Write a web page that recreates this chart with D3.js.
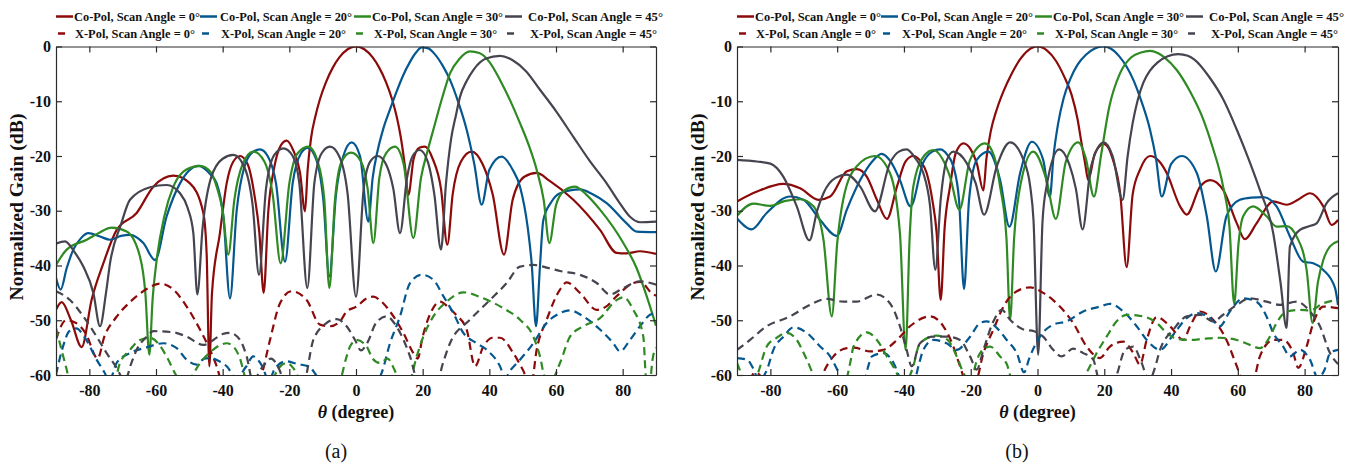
<!DOCTYPE html>
<html>
<head>
<meta charset="utf-8">
<script src="https://cdn.jsdelivr.net/npm/d3@7"></script>
<style>
  body { margin: 0; background: #fff; }
</style>
</head>
<body>
<div id="chart"></div>
<script>
// axis ticks
const thetaTicks = [-80, -60, -40, -20, 0, 20, 40, 60, 80];
const gainTicks = [0, -10, -20, -30, -40, -50, -60];

// legend text
const scanAngles = [0, 20, 30, 45];
const coLabels = scanAngles.map(a => `Co-Pol, Scan Angle = ${a}°`);
const xLabels = scanAngles.map(a => `X-Pol, Scan Angle = ${a}°`);
const panelTags = ["(a)", "(b)"];

// ---- panel (a): [theta in degree, gain in dB] ----
const coA0 = [[-90,-48.1],[-88.3,-46.7],[-85.5,-50],[-82.3,-54.9],[-79.3,-46.2],[-75.8,-39.6],[-71.8,-33.5],[-65.8,-30.4],[-60.8,-25.6],[-54.8,-23.6],[-49.8,-25],[-45.8,-30.4],[-44.8,-38],[-44,-58.4],[-43.2,-45],[-40.8,-34],[-38.8,-25],[-36.8,-21],[-34.8,-20],[-32.5,-21.5],[-30.5,-27],[-29,-34],[-27.7,-45],[-26.3,-30],[-24.5,-22],[-22.5,-18],[-20.8,-17.2],[-18.8,-19],[-16.8,-23],[-15.3,-30.1],[-14.5,-22.5],[-13.5,-16.8],[-12.2,-12.8],[-10.8,-9.6],[-9,-6.5],[-7,-3.9],[-5,-2],[-2.5,-0.5],[0,0],[2.5,-0.5],[5,-2],[7,-3.9],[9,-6.5],[10.8,-9.6],[12.2,-12.8],[13.5,-16.8],[14.7,-22],[15.7,-27.1],[17.3,-20.5],[19,-18.5],[20.7,-18.3],[23,-20.5],[25.5,-26],[27.4,-36.2],[29,-27],[31.5,-21],[34.7,-19.2],[38,-21.5],[41,-27],[44.4,-38],[47,-28],[50.5,-23.8],[54.2,-23.1],[58,-24.5],[65.2,-28],[73.2,-33.5],[78.2,-37.7],[81,-37.8],[85.2,-37.4],[90,-37.9]];
const coA20 = [[-90,-42.3],[-88.6,-44.4],[-86.8,-40.5],[-84.8,-37.1],[-82.5,-35],[-80.3,-34.1],[-76.8,-34.7],[-73.8,-35.3],[-70.5,-34.6],[-67.8,-34.4],[-63.8,-35.9],[-60.3,-39],[-56.8,-31],[-52.8,-25],[-47.3,-21.8],[-43.5,-23.5],[-41.8,-25],[-39.8,-31],[-37.8,-46],[-35.8,-30],[-33.5,-22],[-31,-19.3],[-28.8,-18.8],[-26.5,-20],[-24,-25],[-21.3,-39.3],[-19,-25],[-16.5,-19.5],[-14.5,-18.5],[-12,-20.5],[-9.8,-28],[-8,-42],[-6,-27],[-3.8,-20],[-1.3,-17.5],[1.2,-20],[3.7,-32],[5,-24],[6.5,-19],[8.2,-15],[10.2,-11.5],[12.2,-8.2],[14.2,-5.2],[16.2,-2.8],[18,-1.1],[19.7,-0.15],[21.5,-0.3],[23.5,-1.3],[26,-3.5],[28.2,-6.1],[30.7,-10.2],[33.2,-15.2],[35.5,-21.5],[37.7,-28.9],[40,-22.5],[43.7,-20.1],[47,-22.5],[49.2,-25.6],[51.5,-33],[52.7,-39.6],[54,-51.1],[55.2,-40],[56.2,-31.7],[58.5,-28.5],[61.2,-26.8],[67.2,-26.1],[71,-27],[75.2,-28.6],[81.2,-32.3],[84.2,-33.8],[90,-33.9]];
const coA30 = [[-90,-39.9],[-86.8,-37.1],[-80.8,-35.3],[-77,-34],[-73.3,-33.1],[-68.8,-33.8],[-64.8,-38.4],[-63.2,-45],[-62,-56.3],[-61,-46],[-59.8,-39],[-57.5,-31],[-54.8,-25.6],[-51,-22.5],[-46.8,-21.8],[-43.5,-23],[-41.8,-25.6],[-40,-30],[-38.3,-38],[-36.5,-28],[-34,-21.5],[-30.8,-19.2],[-27.5,-21],[-25,-27],[-22.6,-39.6],[-20,-25],[-17.5,-19.5],[-14.3,-18.3],[-11.5,-21],[-9.5,-28],[-8,-44.1],[-6.3,-28],[-4.3,-21],[-1.5,-19.4],[1.5,-21],[3.5,-26],[5.2,-35.9],[7,-24],[9,-19.5],[11.7,-18.3],[14.3,-21.5],[17.2,-35],[19.5,-24],[21.5,-19],[23.2,-15.2],[25.8,-9.5],[28.2,-4.9],[31,-2.3],[34.2,-0.9],[37,-1.2],[40,-2.8],[43.2,-6.1],[46.2,-9.8],[49.2,-14],[52,-18.3],[54.2,-22.5],[56.3,-28],[58,-35.9],[60,-29],[62.5,-26.3],[65.7,-25.6],[69,-27],[73.2,-29.8],[80.2,-35.9],[84.2,-40.5],[87.2,-45.6],[90,-51]];
const coA45 = [[-90,-36],[-87.3,-35.6],[-84.5,-37.5],[-81.8,-40.2],[-78.8,-45],[-76.8,-51.1],[-75,-45],[-73.8,-39.6],[-70.5,-32.5],[-67.8,-28],[-61.8,-25.7],[-56.8,-25.3],[-52.8,-26.8],[-50.5,-29.5],[-48.8,-34.1],[-47.6,-45.3],[-46,-33],[-43.5,-24],[-40,-20.5],[-36.8,-19.8],[-33.5,-22],[-31,-29],[-29.1,-41.7],[-27,-26],[-24.5,-19.8],[-21.8,-18.6],[-19,-20],[-17,-25],[-14.6,-44.1],[-12.5,-25],[-10.3,-19.5],[-7.8,-18.3],[-5,-20.1],[-2.5,-27],[0,-45.7],[2.3,-26],[4.3,-21],[6.5,-20],[9,-21.5],[11.2,-26],[13.2,-34.1],[15.3,-24],[17,-20],[19.1,-18.9],[21.5,-21],[23.5,-27],[25.5,-37.1],[27,-25],[28.5,-17],[30,-12.5],[31.2,-9.2],[33.2,-6.3],[35.2,-4.3],[39,-2.2],[43.2,-1.7],[47,-2.5],[51,-4.5],[55.2,-7.9],[60,-11.8],[65.2,-16.5],[70,-20.8],[75.2,-25],[79,-28.5],[82.2,-31.1],[85.2,-32.1],[90,-32]];
const xA0 = [[-90,-53.5],[-87,-50],[-84,-50.5],[-81,-52.5],[-77.5,-57],[-75.5,-53],[-72,-49.5],[-68,-46.8],[-62.8,-44.3],[-58.8,-43.3],[-54.8,-44.4],[-50.8,-47.5],[-46.8,-51.7],[-43.8,-55.4],[-41.8,-58.4],[-40,-62],[-34,-66],[-28.3,-60],[-25.8,-53.6],[-22.8,-46.9],[-19.3,-44.7],[-14.8,-46.3],[-10.8,-50.8],[-7.8,-51.1],[-4.8,-50.2],[-2.8,-48.4],[0.2,-47.5],[3.2,-46],[5.2,-45.7],[7.5,-46.5],[10.2,-48.4],[14.2,-52.3],[17.2,-56],[18.5,-57],[20,-53],[22.5,-48.5],[25.2,-46.6],[27.5,-47.5],[30,-49],[33.2,-51.7],[35.7,-58.4],[38.2,-54.8],[41,-53.2],[43.2,-53.2],[47.2,-56],[50,-59],[52.5,-62],[54.2,-55.4],[57.2,-49.9],[61.2,-44.4],[63.2,-43.1],[67.2,-45],[72.2,-48.1],[75,-47.5],[78.2,-45.6],[83.2,-43.2],[85.2,-43],[89.2,-45.3],[90,-45.5]];
const xA20 = [[-90,-60],[-88,-55],[-86,-52],[-84,-51.5],[-81,-53.5],[-78,-57],[-75.5,-59.5],[-74,-61],[-71.8,-57.8],[-67.8,-56],[-63,-55],[-57.8,-54.2],[-53.8,-55.1],[-50.8,-57.2],[-47.8,-58.1],[-45.5,-57],[-43.8,-56.9],[-41,-57.5],[-38.8,-58.4],[-36,-60.5],[-33,-58.5],[-30.8,-56.6],[-28.5,-58],[-26,-61],[-24.5,-59],[-21,-57.5],[-17.5,-58],[-14,-58.5],[-11,-60.5],[-4,-61],[0,-62],[5,-62],[7.7,-59.6],[10.2,-54.2],[13.2,-49.3],[16.2,-43.2],[19.7,-41.7],[23.2,-42.6],[26.2,-45.6],[29.2,-48.7],[32.2,-52.3],[36.2,-54.2],[39.2,-55.4],[43.2,-58.4],[44.7,-60.5],[46.5,-59],[49.2,-57.2],[53.2,-54.2],[57.2,-50.5],[61.2,-48.7],[64.2,-48.2],[68.2,-49.3],[73.2,-51.7],[77.2,-54.2],[79.2,-55.7],[82.2,-53.6],[85.2,-51.1],[88.2,-49],[90,-48.7]];
const xA30 = [[-90,-51.4],[-88.5,-55],[-86.8,-59],[-85.5,-62],[-73,-62],[-70.8,-57.8],[-67.8,-55.4],[-64.8,-53.6],[-61.8,-53.2],[-59,-54.5],[-56.5,-57],[-54,-60],[-51,-62],[-49,-60],[-47,-58],[-44,-56],[-41,-54.6],[-38.8,-54.2],[-36.5,-55],[-34.8,-57],[-33,-60.5],[-26,-62],[-23.5,-59],[-20.8,-57.8],[-18.5,-59],[-16.5,-61],[-5,-61],[-3,-57],[-1.8,-54.8],[0.2,-53.6],[3.2,-54.8],[5,-57],[7.2,-57.8],[9.5,-57],[11.5,-59],[13,-61],[16,-61],[18.2,-56.6],[20.2,-53],[23.2,-49.3],[27.2,-46.6],[32.2,-44.9],[38.2,-46],[44.2,-47.8],[49.2,-49.9],[53.2,-53],[55.2,-56.6],[56.7,-60.5],[58.5,-61],[61.2,-57.8],[64.2,-53],[68.2,-51.1],[73.2,-49.6],[78.2,-46.3],[80.2,-45.8],[83.2,-48.1],[86.2,-53],[87,-60.5],[88,-62],[89,-57],[90,-55]];
const xA45 = [[-90,-44.7],[-85.8,-46.3],[-81.8,-49.3],[-77.8,-53],[-74.8,-56],[-72,-58.5],[-69.3,-61],[-67.5,-58],[-65.8,-55.4],[-62.8,-53],[-60.8,-52],[-54.8,-52.2],[-50.8,-53],[-45.8,-54.5],[-42.8,-53.6],[-40,-52.5],[-37.8,-52.3],[-34.8,-53.6],[-32.8,-56.6],[-31,-61],[-28,-58.5],[-25.5,-57],[-23,-59],[-21,-62],[-16,-62],[-12.8,-53.6],[-8.8,-50.5],[-5.8,-49.8],[-2.8,-51.1],[-0.3,-53.6],[1.5,-55.5],[3.5,-54],[6,-50.5],[9.2,-49.3],[12,-51],[16.2,-56.6],[18.5,-61],[24,-62],[26,-58],[28.2,-54.2],[34.2,-49.9],[40.2,-46.3],[45.2,-43.2],[49.2,-40.2],[53.2,-39.9],[58,-40.5],[61.2,-41],[67.2,-41.7],[72.2,-43.2],[76.2,-45.3],[80.2,-44.1],[85.2,-42.9],[90,-43.5]];

// ---- panel (b) ----
const coB0 = [[-90,-28.3],[-84,-26.5],[-76.1,-25.1],[-71.1,-25.9],[-65.6,-28],[-62.1,-27.4],[-57.1,-22.8],[-54.1,-22.4],[-51.1,-23.8],[-48.1,-28],[-45.1,-31.5],[-42.1,-25.6],[-39.5,-21],[-37.2,-20],[-35,-21],[-33.2,-23.1],[-31.5,-28],[-30.2,-34.1],[-29,-46.3],[-27.8,-33],[-26.2,-25.6],[-24.5,-19.5],[-22.2,-17.7],[-20,-18.8],[-18.2,-21.3],[-16.2,-26.3],[-15.3,-20.5],[-14,-15.5],[-12.2,-11.5],[-10.2,-8.2],[-8,-5.3],[-5.5,-2.6],[-2.8,-0.7],[0,0],[2.8,-0.7],[5.5,-2.6],[8,-5.5],[10.2,-8.8],[12,-13.3],[13.2,-17.7],[14.3,-21.5],[15.2,-24.4],[17.2,-19.5],[19.9,-17.8],[22.5,-20.5],[24.8,-27],[26.7,-40.3],[28.5,-27],[30.7,-22.5],[33.7,-20],[36.5,-21],[38.7,-23.1],[42.7,-29.2],[44.7,-30.7],[48.7,-25.6],[51.7,-24.4],[55.6,-26.2],[59.7,-32.3],[62.1,-35.2],[65.6,-32.3],[70.6,-28.3],[74.6,-28.9],[78,-28],[81.6,-26.8],[85.6,-29.2],[88.1,-32.6],[90,-31.7]];
const coB20 = [[-90,-31.4],[-85.6,-33.4],[-81.1,-30.4],[-74.1,-27.4],[-70.1,-28],[-65.1,-31.7],[-60.1,-34.6],[-57.1,-29.8],[-53.1,-24.4],[-49.5,-21],[-46.7,-19.6],[-44,-21],[-41.2,-24.4],[-38,-29.2],[-34.3,-21.3],[-31.5,-19.2],[-29.2,-18.8],[-27,-19.8],[-25.2,-21.9],[-23.5,-28],[-22,-44.3],[-20.5,-28],[-18.2,-20.7],[-14.7,-19.2],[-11.2,-24.4],[-8.4,-32.9],[-5.2,-23.1],[-1.7,-17.4],[1.7,-20.7],[3.7,-27.5],[4.8,-20],[6.2,-14],[7.8,-9.5],[9.7,-6.1],[12,-3.3],[14.5,-1.5],[17,-0.4],[19.7,0],[22,-0.4],[24.5,-1.8],[26.7,-3.7],[28.7,-6.1],[31,-9.8],[33.7,-15.2],[35.5,-20.5],[37.2,-27.4],[40,-21.5],[43.2,-20],[47.7,-23.1],[50.7,-31],[53.4,-41.1],[56.6,-31],[60.6,-28],[64,-27.6],[67.6,-27.5],[71.6,-29.2],[75.6,-34.7],[79.6,-39.3],[82.6,-39.6],[85.6,-40.8],[89.1,-44.1],[90,-47.2]];
const coB30 = [[-90,-30.9],[-85.1,-28.7],[-80.1,-29.1],[-75.5,-28.2],[-71.1,-27.9],[-67.1,-29.2],[-64.1,-35.3],[-61.6,-49.3],[-60,-36],[-58.2,-28],[-54.2,-21.9],[-48.7,-20],[-44.2,-23.1],[-41.2,-34.1],[-39.5,-55.4],[-38.3,-35],[-37.2,-25.6],[-34,-20],[-31.2,-18.9],[-28.5,-20.5],[-26.2,-23.8],[-23.4,-29.8],[-20.2,-20.7],[-15.7,-17.7],[-13,-20],[-11.2,-25.6],[-9.3,-35],[-8.2,-49.9],[-7,-35],[-5.2,-25.6],[-1.3,-19.2],[2.7,-24.4],[5.5,-31.5],[8.5,-21],[12.2,-17.5],[14.5,-20.5],[16.9,-27.4],[19,-20],[21.5,-11],[24.7,-4.9],[28,-2],[31,-1.1],[33.7,-0.8],[36,-1.2],[38,-2],[41.7,-4.3],[45.5,-8],[49.7,-13.4],[52.5,-18.5],[55.6,-25.6],[57.5,-33],[58.9,-47],[60.2,-36],[61.6,-31],[64.6,-29.2],[68.6,-31],[71.6,-32.9],[74.6,-32.8],[77.6,-34.7],[80.6,-40.8],[82.4,-50.5],[84,-43],[85.6,-39],[87.6,-36.5],[90,-35.6]];
const coB45 = [[-90,-20.7],[-84,-21],[-80,-21.4],[-76.1,-23.8],[-72.1,-29.2],[-68.3,-35.4],[-66,-30],[-64.1,-26.8],[-60.5,-24],[-57.1,-23.4],[-53.1,-25.6],[-48.7,-30.1],[-44.2,-21.3],[-41.5,-19.2],[-39.2,-18.8],[-36.5,-20.5],[-34.2,-23.1],[-32.2,-29],[-30.6,-40.8],[-29,-28],[-27.3,-21],[-25.2,-19.2],[-21.2,-21.3],[-18.5,-25],[-16,-30.7],[-12.2,-21.9],[-8.2,-17.5],[-4.2,-20.7],[-2.2,-25.5],[-1.2,-31.7],[0.2,-56.3],[1.5,-32],[2.7,-25.6],[6.5,-18.8],[9.5,-21.5],[11.5,-26],[13.5,-33.4],[16,-22],[19.9,-17.5],[22.5,-20],[25.5,-28],[27,-20],[28.5,-14],[30,-9.8],[31.7,-6.6],[33.7,-4.4],[36,-2.9],[39,-1.8],[42.2,-1.4],[45,-1.7],[47,-2.4],[51.7,-5.8],[55.5,-9.5],[59.7,-15.2],[63,-20.2],[66.6,-26.2],[70.6,-34.1],[72.8,-43.2],[74.6,-51.4],[75.6,-36.5],[78.6,-33.5],[81.5,-32.8],[83.6,-32.3],[86.6,-28.6],[90,-26.8]];
const xB0 = [[-90,-62],[-86,-60.5],[-84.5,-59.5],[-82.5,-60.5],[-80,-63],[-66,-63],[-64.1,-59.6],[-61.1,-56.6],[-57.1,-55.1],[-55,-55],[-50.1,-55.7],[-46.1,-55.4],[-42.1,-53.6],[-38.2,-51.1],[-32.2,-49.3],[-28.2,-51.1],[-25.2,-54.8],[-23.2,-58.4],[-21.5,-61],[-18.5,-61],[-16.2,-56],[-13.2,-51.7],[-10.2,-47.5],[-6.2,-44.7],[-2.2,-44],[1.7,-45],[6.7,-47.5],[10.7,-50.5],[14.7,-54.8],[18.7,-56.9],[21.7,-54.8],[25.7,-53.9],[28.7,-56],[30.7,-58.1],[32.7,-53.6],[35.7,-49.4],[39.7,-51.1],[43.7,-53.6],[45.7,-51.1],[48.7,-48.4],[52.6,-49.9],[56.6,-53.6],[59.7,-58.4],[61.5,-61],[64.5,-61],[66.6,-56.6],[70.6,-53.6],[73.6,-53.6],[76.6,-56],[78.1,-58.7],[80.6,-54.8],[82.6,-50.5],[85.6,-47.5],[90,-47.8]];
const xB20 = [[-90,-56.9],[-87,-57.2],[-85,-59],[-83.5,-61],[-81,-59],[-79.1,-55.4],[-76.1,-53],[-73.1,-51.3],[-69.1,-52.3],[-65.1,-54.8],[-62.1,-56.6],[-60,-59],[-58.5,-61],[-52,-61],[-50.5,-58],[-49.6,-56.6],[-46.1,-56],[-43.1,-57.8],[-41,-60.5],[-37,-61],[-35.5,-58],[-34.2,-55.4],[-31.2,-53.6],[-27.2,-54.2],[-24.2,-55.4],[-20.2,-53],[-17.2,-50.5],[-15.2,-50.2],[-12.2,-51.4],[-9.2,-53.6],[-6.2,-56],[-4,-59.5],[-2.5,-57],[0.7,-53],[4.7,-50.8],[8.7,-50.2],[13.7,-48.4],[18.7,-47.5],[21.7,-47],[25.7,-48.4],[29.7,-51.1],[32.7,-53.6],[36.7,-55.4],[40.7,-52.6],[44.7,-49.6],[47.7,-48.7],[51.7,-49.6],[54.6,-51.1],[57.6,-48.4],[61.6,-46],[65.6,-46.6],[68.6,-49.3],[70.6,-52.3],[73.6,-54.8],[75.6,-56.6],[78.6,-55.4],[81.6,-57.2],[84,-60.5],[86,-59],[87.6,-56],[90,-55.4]];
const xB30 = [[-90,-57.8],[-88,-60.5],[-86,-61.5],[-84,-60],[-81.1,-54.8],[-78.1,-53.2],[-75.1,-52.3],[-72.1,-53.6],[-69.1,-57.2],[-66.5,-60.5],[-62,-62],[-57.5,-61],[-56,-57.5],[-55.1,-54.8],[-51.1,-52.2],[-48.1,-53.6],[-45.1,-56.6],[-42.2,-59.6],[-40.5,-62],[-37.5,-59],[-35.2,-54.2],[-30.2,-52.8],[-26.9,-53.6],[-24.2,-56.6],[-22.2,-59.6],[-20,-61.5],[-18.5,-58],[-17.2,-56],[-14.2,-54.8],[-11.2,-56.6],[-9.2,-58],[-7.5,-61],[12,-62],[15.2,-59],[17.7,-56],[20.7,-53],[23.7,-50.2],[26.7,-49],[31.7,-49.3],[35.7,-50.5],[38.7,-52.3],[41.7,-53.4],[45.7,-53.6],[49.7,-53.4],[54.6,-53.2],[59.7,-53.6],[63.6,-54.5],[66.6,-55.1],[69.6,-53],[71.6,-50.5],[74.6,-48.4],[78.6,-48.1],[81.6,-48.2],[85.6,-46.9],[90,-46.3]];
const xB45 = [[-90,-55.4],[-86.1,-53.6],[-81.1,-51.1],[-74.1,-49.3],[-69.1,-47.5],[-63.1,-46.1],[-58.2,-46.6],[-54.2,-46.6],[-48.2,-45.3],[-44.2,-46.9],[-41.2,-51.1],[-39.2,-55.4],[-37.7,-58.4],[-35.2,-54.2],[-31.2,-53],[-27.2,-53],[-23.2,-53.6],[-20.2,-56.6],[-18.2,-59],[-16.2,-55.4],[-13.2,-50.2],[-10.7,-48.1],[-8.2,-49.9],[-4.2,-51.7],[-1,-52],[1.7,-53],[4.7,-55.4],[7.2,-56.6],[10.7,-55.2],[13.7,-56],[16.7,-57.2],[18.5,-61],[22,-62],[23.7,-60],[26.2,-55.4],[28.7,-54.8],[31,-57.5],[33.5,-61],[35,-59],[36.7,-55.4],[40.7,-51.7],[44.7,-49.3],[48.7,-49],[52.6,-50.2],[55.6,-49],[59.7,-47.2],[63.6,-46],[68.6,-46.6],[72.6,-47.2],[77.6,-46.6],[81.6,-48.4],[84.6,-51.1],[87.6,-56],[90,-58]];

// ---- styling / layout ----
const lineColors = ["#8c0a0a", "#04578f", "#2f8a24", "#45444f"];
const FONT = "'Liberation Serif', 'Times New Roman', serif";
const plotTop = 46.5, plotBottom = 375;

const panels = [
  { left: 56, right: 656, tagX: 336, co: [coA0, coA20, coA30, coA45], cross: [xA0, xA20, xA30, xA45] },
  { left: 737, right: 1338, tagX: 1017, co: [coB0, coB20, coB30, coB45], cross: [xB0, xB20, xB30, xB45] }
];

// legend slots, relative to the plot's left edge
const legendSlots = [0, 144, 298, 449];
const coTextX = [18, 164, 316, 472];
const coTextW = [126, 132, 131, 135];
const xTextX = [19, 165, 318, 474];
const xTextW = [120, 125, 123, 127];

const svg = d3.select("#chart").append("svg")
  .attr("width", 1360)
  .attr("height", 466)
  .style("background", "#fff");

panels.forEach((p, i) => drawPanel(p, i));

function drawPanel(p, i) {
  const x = d3.scaleLinear().domain([-90, 90]).range([p.left, p.right]);
  const y = d3.scaleLinear().domain([-60, 0]).range([plotBottom, plotTop]);
  const g = svg.append("g");

  // clip curves to the plotting box
  const clipId = "clip" + i;
  svg.append("clipPath").attr("id", clipId)
    .append("rect")
    .attr("x", p.left).attr("y", plotTop)
    .attr("width", p.right - p.left).attr("height", plotBottom - plotTop);

  const line = d3.line()
    .x(d => x(d[0]))
    .y(d => y(d[1]))
    .curve(d3.curveMonotoneX);

  const curves = g.append("g").attr("clip-path", `url(#${clipId})`);

  p.co.forEach((s, k) => {
    curves.append("path").datum(s)
      .attr("d", line)
      .attr("fill", "none")
      .attr("stroke", lineColors[k])
      .attr("stroke-width", 2.2)
      .attr("stroke-linejoin", "round");
  });
  p.cross.forEach((s, k) => {
    curves.append("path").datum(s)
      .attr("d", line)
      .attr("fill", "none")
      .attr("stroke", lineColors[k])
      .attr("stroke-width", 2.2)
      .attr("stroke-dasharray", "8,5");
  });

  // axes, MATLAB style box with inward ticks
  const styleAxis = sel => {
    sel.attr("font-family", FONT).attr("font-size", 16).attr("font-weight", "bold");
    sel.selectAll("path, line").attr("stroke", "#2b2b2b").attr("stroke-width", 1.2);
    sel.selectAll("text").attr("fill", "#111");
  };
  g.append("g").attr("transform", `translate(0,${plotBottom})`)
    .call(d3.axisBottom(x).tickValues(thetaTicks).tickSizeInner(-6).tickSizeOuter(0)
      .tickPadding(10).tickFormat(d => String(d)))
    .call(styleAxis);
  g.append("g").attr("transform", `translate(0,${plotTop})`)
    .call(d3.axisTop(x).tickValues(thetaTicks).tickSizeInner(-6).tickSizeOuter(0).tickFormat(""))
    .call(styleAxis);
  g.append("g").attr("transform", `translate(${p.left},0)`)
    .call(d3.axisLeft(y).tickValues(gainTicks).tickSizeInner(-6).tickSizeOuter(0)
      .tickPadding(5).tickFormat(d => String(d)))
    .call(styleAxis);
  g.append("g").attr("transform", `translate(${p.right},0)`)
    .call(d3.axisRight(y).tickValues(gainTicks).tickSizeInner(-6).tickSizeOuter(0).tickFormat(""))
    .call(styleAxis);

  // axis titles
  g.append("text")
    .attr("transform", `translate(${p.left - 33},207) rotate(-90)`)
    .attr("text-anchor", "middle")
    .attr("font-family", FONT).attr("font-weight", "bold").attr("font-size", 18)
    .attr("textLength", 187).attr("lengthAdjust", "spacingAndGlyphs")
    .attr("fill", "#111")
    .text("Normalized Gain (dB)");

  const xt = g.append("text")
    .attr("x", (p.left + p.right) / 2).attr("y", 418)
    .attr("text-anchor", "middle")
    .attr("font-family", FONT).attr("font-weight", "bold").attr("font-size", 18)
    .attr("fill", "#111");
  xt.append("tspan").attr("font-style", "italic").text("θ");
  xt.append("tspan").text(" (degree)");

  g.append("text")
    .attr("x", p.tagX).attr("y", 458)
    .attr("text-anchor", "middle")
    .attr("font-family", FONT).attr("font-size", 20)
    .attr("fill", "#111")
    .text(panelTags[i]);

  // legend: co-pol on the first row, x-pol on the second
  const leg = g.append("g").attr("font-family", FONT).attr("font-weight", "bold").attr("font-size", 13).attr("fill", "#111");
  legendSlots.forEach((s, k) => {
    leg.append("line")
      .attr("x1", p.left + s).attr("x2", p.left + s + 17)
      .attr("y1", 16.5).attr("y2", 16.5)
      .attr("stroke", lineColors[k]).attr("stroke-width", 2.5);
    leg.append("text")
      .attr("x", p.left + coTextX[k]).attr("y", 21)
      .attr("textLength", coTextW[k]).attr("lengthAdjust", "spacingAndGlyphs")
      .text(coLabels[k]);

    leg.append("line")
      .attr("x1", p.left + s + 2).attr("x2", p.left + s + 9)
      .attr("y1", 33.5).attr("y2", 33.5)
      .attr("stroke", lineColors[k]).attr("stroke-width", 2.5);
    leg.append("text")
      .attr("x", p.left + xTextX[k]).attr("y", 38)
      .attr("textLength", xTextW[k]).attr("lengthAdjust", "spacingAndGlyphs")
      .text(xLabels[k]);
  });
}
</script>
</body>
</html>
